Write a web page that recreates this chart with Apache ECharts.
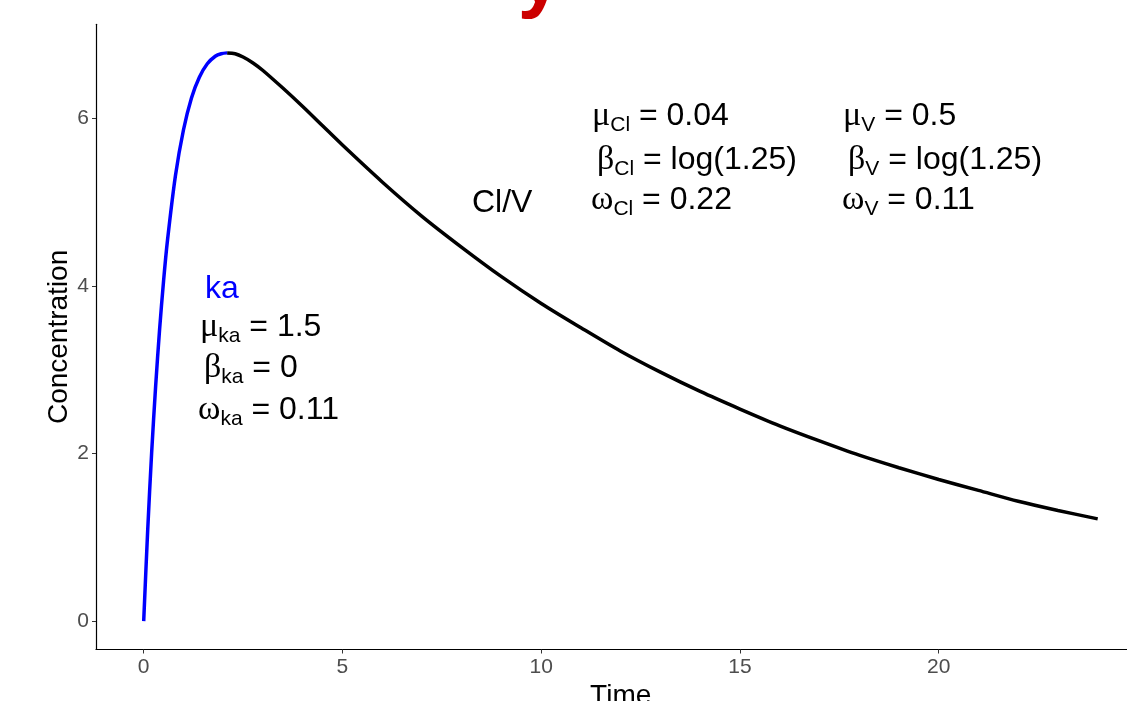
<!DOCTYPE html>
<html>
<head>
<meta charset="utf-8">
<title>Concentration vs Time</title>
<script src="https://cdn.jsdelivr.net/npm/echarts@6/dist/echarts.min.js"></script>
<style>
  html, body { margin: 0; padding: 0; background: #fff; }
  #main { width: 1127px; height: 701px; }
</style>
</head>
<body>
<div id="main"></div>
<script>
// absorption phase (blue part of the curve)
var absTime = [0, 0.1, 0.2, 0.3, 0.4, 0.5, 0.6, 0.8, 1.0, 1.2, 1.4, 1.6, 1.8, 1.95, 2.1];
var absConc = [0, 1.08, 2.01, 2.80, 3.48, 4.06, 4.55, 5.32, 5.86, 6.24, 6.49, 6.65, 6.74, 6.77, 6.78];

// elimination phase (black part)
var elimTime = [2.1, 2.3, 2.5, 2.75, 3, 3.5, 4, 4.5, 5, 6, 7, 8, 9, 10, 11, 12, 13, 14, 15, 16, 17, 18, 19, 20, 21, 22, 23, 24];
var elimConc = [6.78, 6.77, 6.73, 6.66, 6.57, 6.36, 6.14, 5.91, 5.68, 5.24, 4.83, 4.46, 4.11, 3.79, 3.50, 3.22, 2.97, 2.74, 2.53, 2.33, 2.15, 1.98, 1.83, 1.69, 1.56, 1.43, 1.32, 1.22];

var xTicks = [0, 5, 10, 15, 20];
var yTicks = [0, 2, 4, 6];

var zip = function (xs, ys) {
    var out = [];
    for (var i = 0; i < xs.length; i++) out.push([xs[i], ys[i]]);
    return out;
};

var chart = echarts.init(document.getElementById('main'));

var rich = {
    g: { fontFamily: 'Liberation Serif', fontSize: 34, lineHeight: 40, verticalAlign: 'middle' },
    s: { fontFamily: 'Liberation Sans', fontSize: 21, lineHeight: 26, verticalAlign: 'bottom' },
    n: { fontFamily: 'Liberation Sans', fontSize: 32, lineHeight: 40, verticalAlign: 'middle' }
};

var label = function (x, y, text, color) {
    return {
        type: 'text', x: x, y: y, z: 10,
        style: {
            text: text, rich: rich, fill: color || '#000',
            font: '32px "Liberation Sans"',
            align: 'left', verticalAlign: 'middle'
        }
    };
};

var axisCommon = {
    axisLine: { onZero: false, lineStyle: { color: '#000', width: 1.2 } },
    splitLine: { show: false },
    nameTextStyle: { color: '#000', fontSize: 28, fontFamily: 'Liberation Sans' }
};

chart.setOption({
    animation: false,
    backgroundColor: '#fff',
    grid: { left: 96, top: 24.3, width: 1049.4, height: 625.2, containLabel: false, outerBoundsMode: 'none' },
    xAxis: Object.assign({}, axisCommon, {
        type: 'value', min: -1.2, max: 25.2,
        name: 'Time', nameLocation: 'middle', nameGap: 33,
        axisTick: { customValues: xTicks, length: 4, lineStyle: { color: '#333' } },
        axisLabel: { customValues: xTicks, margin: 7, color: '#4d4d4d', fontSize: 21, fontFamily: 'Liberation Sans' }
    }),
    yAxis: Object.assign({}, axisCommon, {
        type: 'value', min: -0.339, max: 7.121,
        name: 'Concentration', nameLocation: 'middle', nameGap: 23, nameMoveOverlap: false,
        axisTick: { customValues: yTicks, length: 4, lineStyle: { color: '#333' } },
        axisLabel: { customValues: yTicks, margin: 7, color: '#4d4d4d', fontSize: 21, fontFamily: 'Liberation Sans' }
    }),
    series: [{
        type: 'line', name: 'absorption', data: zip(absTime, absConc),
        smooth: 0.3, showSymbol: false,
        lineStyle: { color: '#0000ff', width: 3.5 }
    }, {
        type: 'line', name: 'elimination', data: zip(elimTime, elimConc),
        smooth: 0.3, showSymbol: false,
        lineStyle: { color: '#000', width: 3.5 }
    }],
    graphic: [
        // cut-off title at the very top
        {
            type: 'text', x: 540, y: 20, z: 10,
            style: { text: 'y', fill: '#cc0000', font: 'bold 80px "Liberation Sans"', align: 'center', verticalAlign: 'bottom' }
        },
        label(205, 289, 'ka', '#0000ff'),
        label(200, 327, '{g|μ}{s|ka}{n| = 1.5}'),
        label(204, 368, '{g|β}{s|ka}{n| = 0}'),
        label(198, 410, '{g|ω}{s|ka}{n| = 0.11}'),
        label(592, 116, '{g|μ}{s|Cl}{n| = 0.04}'),
        label(843, 116, '{g|μ}{s|V}{n| = 0.5}'),
        label(597, 160, '{g|β}{s|Cl}{n| = log(1.25)}'),
        label(848, 160, '{g|β}{s|V}{n| = log(1.25)}'),
        label(472, 203, 'Cl/V'),
        label(591, 200, '{g|ω}{s|Cl}{n| = 0.22}'),
        label(842, 200, '{g|ω}{s|V}{n| = 0.11}')
    ]
});
</script>
</body>
</html>
